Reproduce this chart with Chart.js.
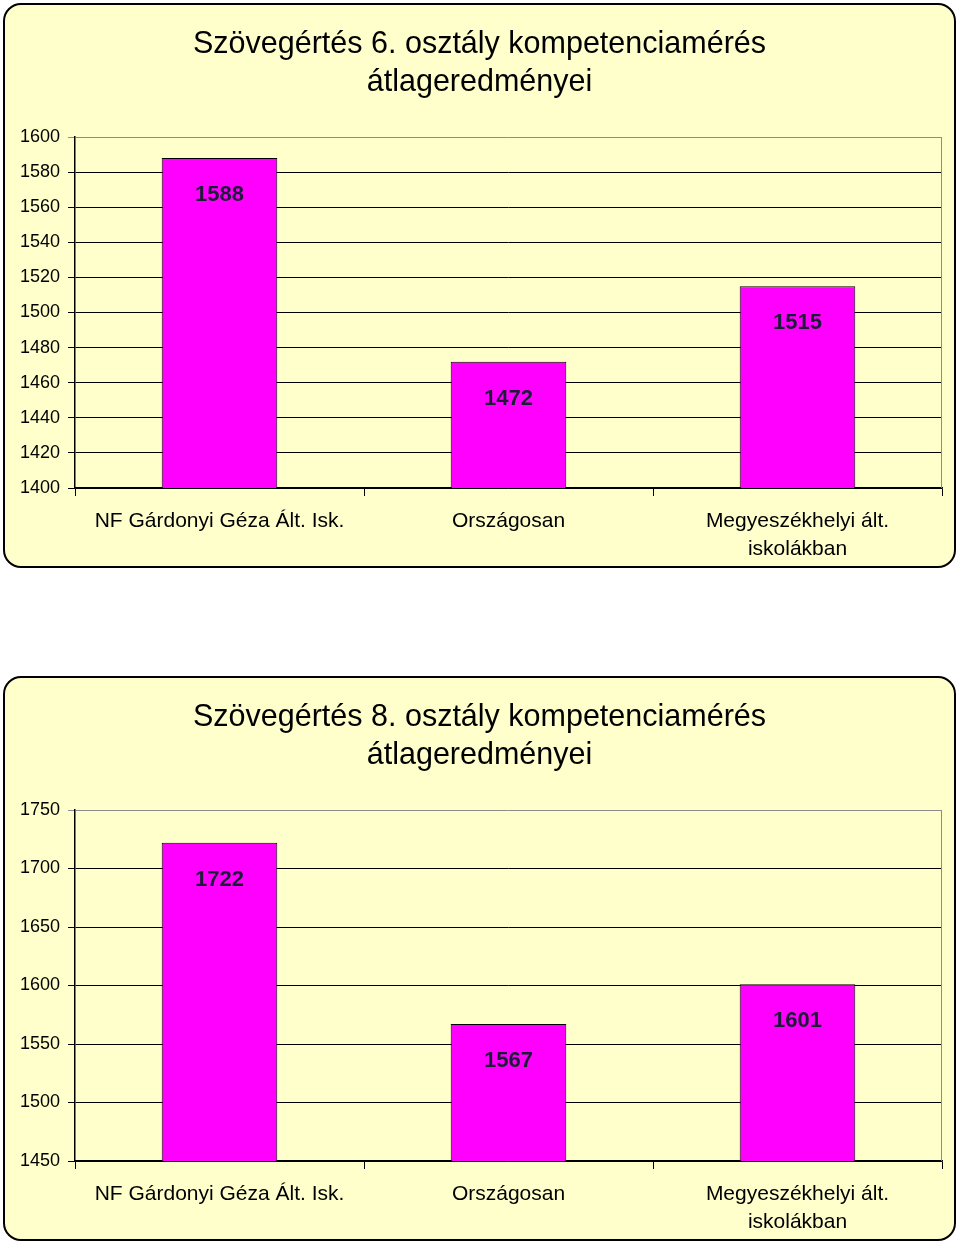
<!DOCTYPE html>
<html>
<head>
<meta charset="utf-8">
<title>Szövegértés kompetenciamérés</title>
<script src="https://cdn.jsdelivr.net/npm/chart.js@4"></script>
<style>
  html, body { margin: 0; padding: 0; background: #fff; }
  body { width: 960px; height: 1247px; position: relative; overflow: hidden; }
  .panel {
    position: absolute;
    left: 3px;
    width: 949px;
    height: 561px;
    border: 2px solid #000;
    border-radius: 18px;
    background: #ffffcc;
  }
  .panel canvas { position: absolute; left: 0; top: 0; }
</style>
</head>
<body>
<div class="panel" style="top:3px"><canvas id="chart6" width="949" height="561"></canvas></div>
<div class="panel" style="top:676px"><canvas id="chart8" width="949" height="561"></canvas></div>
<script>
// Data
var categories = ['NF Gárdonyi Géza Ált. Isk.', 'Országosan', ['Megyeszékhelyi ált.', 'iskolákban']];

var title6 = ['Szövegértés 6. osztály kompetenciamérés', 'átlageredményei'];
var values6 = [1588, 1472, 1515];
var axis6 = [1400, 1600, 20]; // min, max, step

var title8 = ['Szövegértés 8. osztály kompetenciamérés', 'átlageredményei'];
var values8 = [1722, 1567, 1601];
var axis8 = [1450, 1750, 50];

(function () {
  'use strict';

  var FONT = "'Liberation Sans', Arial, sans-serif";
  var BAR_COLOR = '#ff00ff';
  var LABEL_COLOR = '#1c1c38';
  var GRID_TOP = '#8c8c8c';

  // Value labels drawn inside the top of each bar
  var barLabels = {
    id: 'barLabels',
    afterDatasetsDraw: function (chart) {
      var ctx = chart.ctx;
      var meta = chart.getDatasetMeta(0);
      var data = chart.data.datasets[0].data;
      ctx.save();
      ctx.font = 'bold 22px ' + FONT;
      ctx.fillStyle = LABEL_COLOR;
      ctx.textAlign = 'center';
      ctx.textBaseline = 'middle';
      meta.data.forEach(function (bar, i) {
        ctx.fillText(String(data[i]), bar.x, bar.y + 37);
      });
      ctx.restore();
    }
  };

  // Grey right-hand border of the plot area
  var plotFrame = {
    id: 'plotFrame',
    afterDraw: function (chart) {
      var a = chart.chartArea;
      var ctx = chart.ctx;
      ctx.save();
      ctx.strokeStyle = GRID_TOP;
      ctx.lineWidth = 1;
      ctx.beginPath();
      ctx.moveTo(a.right - 0.5, a.top);
      ctx.lineTo(a.right - 0.5, a.bottom);
      ctx.stroke();
      ctx.restore();
    }
  };

  function renderBarChart(canvasId, titleLines, values, axis) {
    var canvas = document.getElementById(canvasId);
    if (!canvas || typeof Chart === 'undefined') return;

    new Chart(canvas, {
      type: 'bar',
      data: {
        labels: categories,
        datasets: [{
          data: values,
          backgroundColor: BAR_COLOR,
          borderColor: '#000',
          borderWidth: 1,
          borderSkipped: 'bottom',
          barPercentage: 0.4,
          categoryPercentage: 1
        }]
      },
      options: {
        responsive: false,
        animation: false,
        // equal side padding keeps the title centred on the panel
        layout: { padding: { left: 12, right: 12, top: 0, bottom: 0 } },
        plugins: {
          legend: { display: false },
          tooltip: { enabled: false },
          title: {
            display: true,
            text: titleLines,
            color: '#000',
            font: { family: FONT, size: 30.5, weight: 'normal', lineHeight: 38 / 30.5 },
            padding: { top: 21, bottom: 35 }
          }
        },
        scales: {
          x: {
            afterFit: function (s) { s.height = 78; },
            grid: {
              offset: true,
              drawOnChartArea: false,
              color: '#000',
              tickLength: 8
            },
            border: { color: '#000', width: 1.5 },
            ticks: {
              color: '#000',
              padding: 11,
              maxRotation: 0,
              autoSkip: false,
              font: { family: FONT, size: 21, lineHeight: 28 / 21 }
            }
          },
          y: {
            min: axis[0],
            max: axis[1],
            afterFit: function (s) { s.width = 58; },
            grid: {
              color: function (c) {
                return c.tick && c.tick.value === axis[1] ? GRID_TOP : '#000';
              },
              tickLength: 7
            },
            border: { color: '#000', width: 1.5 },
            ticks: {
              stepSize: axis[2],
              color: '#000',
              padding: 8,
              font: { family: FONT, size: 18 },
              callback: function (v) { return String(v); }
            }
          }
        }
      },
      plugins: [barLabels, plotFrame]
    });
  }

  renderBarChart('chart6', title6, values6, axis6);
  renderBarChart('chart8', title8, values8, axis8);
})();
</script>
</body>
</html>
